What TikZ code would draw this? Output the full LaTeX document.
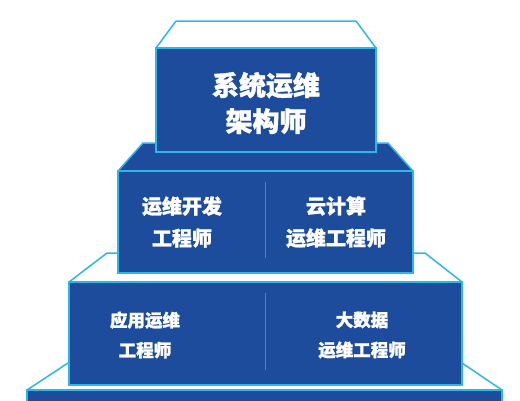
\documentclass[tikz,border=0pt]{standalone}
\usepackage{fontspec}
\newfontfamily\cjk{Noto Sans CJK SC}[BoldFeatures={FakeBold=1.3}]
\definecolor{navy}{HTML}{1E4C9C}
\definecolor{cyanedge}{HTML}{2CB7E8}
\definecolor{divline}{HTML}{3F86CF}
\begin{document}
\begin{tikzpicture}[x=1pt,y=-1pt,
  topwhite/.style={fill=white,draw=cyanedge,line width=1.5pt,line join=round},
  topdark/.style={fill=navy,draw=cyanedge,line width=1.5pt,line join=round},
  front/.style={fill=navy,draw=cyanedge,line width=2.4pt},
  divider/.style={draw=divline,line width=0.9pt},
  lbl/.style={text=white,align=center,inner sep=0pt},
]
\useasboundingbox (0,0) rectangle (520,400);
% tier 4
\draw[topwhite] (68,363) -- (462,363) -- (502,390) -- (27,390) -- cycle;
\draw[front] (27,390) rectangle (502,412);
% tier 3
\draw[topwhite] (107,253) -- (425,253) -- (462,282) -- (69,282) -- cycle;
\draw[front] (69,282) rectangle (462,385);
\draw[divider] (265,293) -- (265,370);
% tier 2
\draw[topdark] (143,143) -- (388,143) -- (413,171) -- (118,171) -- cycle;
\draw[front] (118,171) rectangle (413,273);
\draw[divider] (265,182) -- (265,258);
% tier 1
\draw[topwhite] (176,21) -- (356,21) -- (376,48) -- (156,48) -- cycle;
\draw[front] (156,48) rectangle (376,152);
% labels
\node[lbl,font=\cjk\bfseries\fontsize{27}{36}\selectfont] (arch) at (266,103) {系统运维\\架构师};
\node[lbl,font=\cjk\bfseries\fontsize{20}{32}\selectfont] (devops) at (182,222) {运维开发\\工程师};
\node[lbl,font=\cjk\bfseries\fontsize{20}{32}\selectfont] (cloud) at (336,222) {云计算\\运维工程师};
\node[lbl,font=\cjk\bfseries\fontsize{17.5}{30}\selectfont] (app) at (145,335) {应用运维\\工程师};
\node[lbl,font=\cjk\bfseries\fontsize{17.5}{30}\selectfont] (bigdata) at (362,335) {大数据\\运维工程师};
\end{tikzpicture}
\end{document}
